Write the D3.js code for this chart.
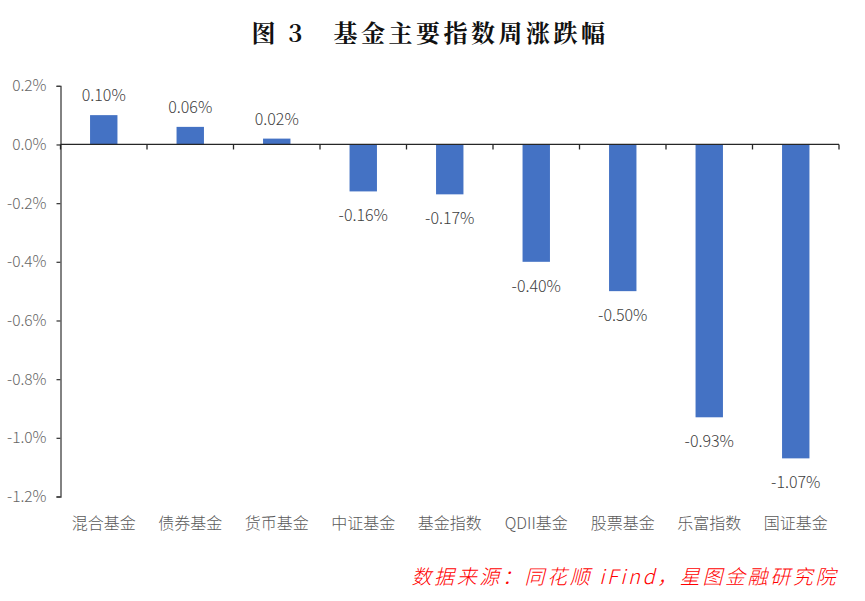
<!DOCTYPE html>
<html><head><meta charset="utf-8">
<script src="https://cdn.jsdelivr.net/npm/d3@7"></script>
<style>body{margin:0;background:#fff}svg{display:block}</style>
</head><body><svg id="c" width="865" height="601"></svg>
<script>
const categories = ["混合基金","债券基金","货币基金","中证基金","基金指数","QDII基金","股票基金","乐富指数","国证基金"];
const values = [0.10, 0.06, 0.02, -0.16, -0.17, -0.40, -0.50, -0.93, -1.07];
const yTicks = [0.2, 0.0, -0.2, -0.4, -0.6, -0.8, -1.0, -1.2];
const title = "图 3　基金主要指数周涨跌幅";
const source = "数据来源：同花顺 iFind，星图金融研究院";

const svg = d3.select("#c");
const font = "'Noto Sans CJK SC', 'Noto Sans', sans-serif";
const x = d3.scaleBand().domain(categories).range([60.5, 839]).paddingInner(0).paddingOuter(0);
const y = d3.scaleLinear().domain([-1.2, 0.2]).range([496.5, 85.8]);
const fmt = (p) => (d => d3.format(p)(d).replace("−", "-") + "%");

svg.append("text").attr("x", 430).attr("y", 42).attr("text-anchor", "middle")
  .attr("font-family", "'Noto Serif CJK SC', 'DejaVu Serif', 'Noto Sans CJK SC', serif")
  .attr("font-weight", "bold").attr("font-size", 24).attr("fill", "#111").attr("letter-spacing", 3.5)
  .text(title);

// y axis
const yAxis = d3.axisLeft(y).tickValues(yTicks).tickSize(4).tickFormat(fmt(".1f"));
const gy = svg.append("g").attr("transform", "translate(60.5,0)").call(yAxis);
gy.select(".domain").attr("stroke", "#404040").attr("stroke-width", 1.3);
gy.selectAll(".tick line").attr("stroke", "#404040").attr("stroke-width", 1.3);
gy.selectAll(".tick text").attr("font-family", font).attr("font-weight", 300).attr("font-size", 15.5)
  .attr("fill", "#666").attr("x", -14).text(d => (d === 0 ? "0.0%" : fmt(".1f")(d)));

// bars
svg.append("g").selectAll("rect").data(values).join("rect")
  .attr("x", (d, i) => x(categories[i]) + x.bandwidth() / 2 - 13.7)
  .attr("width", 27.4)
  .attr("y", d => y(Math.max(0, d)))
  .attr("height", d => Math.abs(y(d) - y(0)))
  .attr("fill", "#4472C4");

// zero line with ticks
const xAxis = d3.axisBottom(x).tickSize(0).tickFormat("");
const gx = svg.append("g").attr("transform", `translate(0,${y(0)})`).call(xAxis);
gx.select(".domain").attr("stroke", "#262626").attr("stroke-width", 1.3).attr("d", `M60.5,0H839`);
const bounds = d3.range(categories.length + 1).map(i => x.range()[0] + i * x.step());
svg.append("g").selectAll("line").data(bounds).join("line")
  .attr("x1", d => d).attr("x2", d => d).attr("y1", y(0)).attr("y2", y(0) + 5)
  .attr("stroke", "#262626").attr("stroke-width", 1.3);

// value labels
svg.append("g").selectAll("text").data(values).join("text")
  .attr("x", (d, i) => x(categories[i]) + x.bandwidth() / 2)
  .attr("y", d => d >= 0 ? y(d) - 14 : y(d) + 30)
  .attr("text-anchor", "middle").attr("font-family", font).attr("font-weight", 300)
  .attr("font-size", 16).attr("fill", "#404040")
  .text(fmt(".2f"));

// category labels
svg.append("g").selectAll("text").data(categories).join("text")
  .attr("x", d => x(d) + x.bandwidth() / 2).attr("y", 529)
  .attr("text-anchor", "middle").attr("font-family", font).attr("font-weight", 300)
  .attr("font-size", 16).attr("fill", "#595959").text(d => d);

svg.append("text").attr("x", 838).attr("y", 584).attr("text-anchor", "end")
  .attr("font-family", font).attr("font-weight", 300).attr("font-style", "italic").attr("font-size", 20)
  .attr("letter-spacing", 2.6).attr("fill", "#ff0000").text(source);
</script></body></html>
